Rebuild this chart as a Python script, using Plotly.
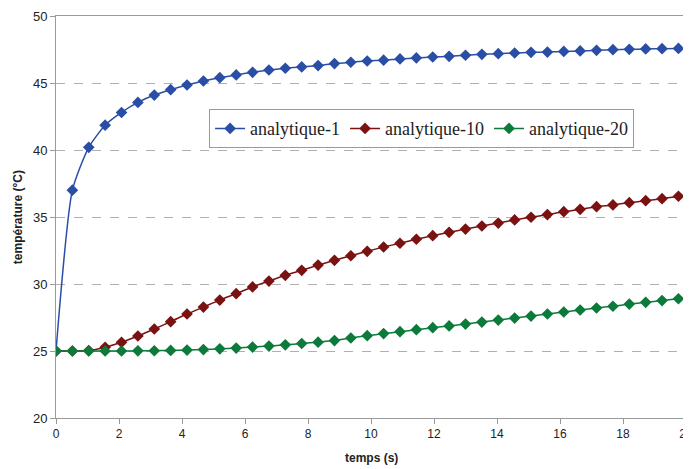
import plotly.graph_objects as go

temps = [0.0, 0.52, 1.04, 1.56, 2.08, 2.6, 3.12, 3.64, 4.16, 4.68, 5.2, 5.72, 6.24, 6.76,
         7.28, 7.8, 8.32, 8.84, 9.36, 9.88, 10.4, 10.92, 11.44, 11.96, 12.48, 13.0, 13.52,
         14.04, 14.56, 15.08, 15.6, 16.12, 16.64, 17.16, 17.68, 18.2, 18.72, 19.24, 19.76]

analytique_1 = [25.0, 37.0, 40.2, 41.85, 42.8, 43.55, 44.1, 44.5, 44.85, 45.15, 45.4,
                45.6, 45.8, 45.97, 46.1, 46.2, 46.3, 46.45, 46.55, 46.64, 46.7, 46.8,
                46.87, 46.94, 46.99, 47.07, 47.14, 47.19, 47.24, 47.29, 47.31, 47.36,
                47.39, 47.44, 47.49, 47.51, 47.54, 47.56, 47.58]

analytique_10 = [25.0, 25.0, 25.03, 25.28, 25.65, 26.12, 26.64, 27.19, 27.76, 28.28,
                 28.8, 29.28, 29.78, 30.22, 30.65, 31.02, 31.41, 31.77, 32.11, 32.44,
                 32.76, 33.04, 33.34, 33.61, 33.86, 34.1, 34.33, 34.55, 34.78, 34.98,
                 35.18, 35.4, 35.57, 35.77, 35.9, 36.07, 36.22, 36.37, 36.55]

analytique_20 = [25.0, 25.0, 25.0, 25.0, 25.0, 25.01, 25.02, 25.04, 25.07, 25.11, 25.16,
                 25.22, 25.29, 25.37, 25.46, 25.56, 25.66, 25.78, 25.97, 26.14, 26.3,
                 26.44, 26.59, 26.74, 26.87, 27.01, 27.16, 27.31, 27.46, 27.61, 27.76,
                 27.91, 28.06, 28.21, 28.34, 28.5, 28.63, 28.76, 28.9]

series = [
    ("analytique-1", analytique_1, "#2A4EA6"),
    ("analytique-10", analytique_10, "#7A1212"),
    ("analytique-20", analytique_20, "#0B7A3A"),
]

fig = go.Figure()
for name, vals, col in series:
    fig.add_trace(go.Scatter(
        x=temps, y=vals, name=name, mode="lines+markers",
        line=dict(color=col, width=1.5, shape="spline", smoothing=0.6),
        marker=dict(symbol="diamond", size=9, color=col),
    ))

fig.update_layout(
    width=683, height=461,
    margin=dict(l=48, r=5, t=8, b=51, autoexpand=False),
    paper_bgcolor="white", plot_bgcolor="white",
    font=dict(family="Liberation Sans, Arial, sans-serif", color="#222222", size=12),
    legend=dict(
        orientation="h", x=0.243, y=0.768, xanchor="left", yanchor="top",
        bgcolor="white", bordercolor="#9a9a9a", borderwidth=1,
        font=dict(family="Liberation Serif, DejaVu Serif, serif", size=18, color="#222222"),
        itemwidth=30, tracegroupgap=0,
    ),
    showlegend=True,
    annotations=[
        dict(text="<b>temps (s)</b>", xref="paper", yref="paper", x=0.5, y=-0.0995,
             xanchor="center", yanchor="middle", showarrow=False,
             font=dict(size=12, color="#222222")),
        dict(text="<b>température (°C)</b>", xref="paper", yref="paper", x=-0.06, y=0.5,
             xanchor="center", yanchor="middle", showarrow=False, textangle=-90,
             font=dict(size=12, color="#222222")),
    ],
)

fig.update_xaxes(
    range=[0, 20], tickmode="linear", tick0=0, dtick=2, automargin=False,
    ticklabeloverflow="allow",
    showline=True, linecolor="#9a9a9a", linewidth=1, mirror=True,
    ticks="outside", ticklen=5, tickcolor="#9a9a9a",
    showgrid=False, zeroline=False,
    tickfont=dict(size=12, color="#222222"),
)
fig.update_yaxes(
    range=[20, 50], tickmode="linear", tick0=20, dtick=5, automargin=False,
    showline=True, linecolor="#9a9a9a", linewidth=1, mirror=True,
    ticks="outside", ticklen=5, tickcolor="#9a9a9a",
    showgrid=True, gridcolor="#b0b0b0", griddash="dash", gridwidth=1,
    zeroline=False,
    tickfont=dict(size=13, color="#222222"),
)

fig.write_html("out.html")
